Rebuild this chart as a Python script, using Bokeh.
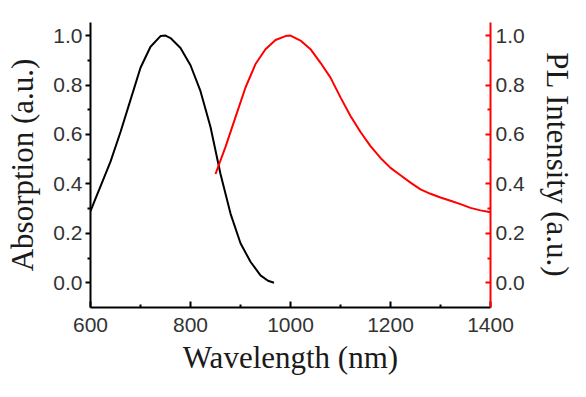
from bokeh.plotting import figure
from bokeh.models import Range1d, LinearAxis, FixedTicker, PrintfTickFormatter
from bokeh.embed import file_html
from bokeh.resources import INLINE

# Absorption spectrum (black)
abs_wavelength = [600, 610, 620, 640, 660, 680, 700, 720, 740, 750, 760, 780, 800,
                  820, 840, 860, 880, 900, 920, 940, 955, 967]
absorption = [0.29, 0.34, 0.39, 0.49, 0.61, 0.74, 0.87, 0.955, 0.998, 1.0, 0.99, 0.95, 0.88,
              0.775, 0.63, 0.44, 0.28, 0.16, 0.085, 0.03, 0.008, 0.0]

# PL spectrum (red)
pl_wavelength = [850, 870, 890, 910, 930, 950, 970, 990, 1000, 1020, 1040, 1060,
                 1080, 1100, 1120, 1140, 1160, 1180, 1200, 1220, 1240, 1260, 1280,
                 1300, 1320, 1340, 1360, 1380, 1400]
pl_intensity = [0.44, 0.55, 0.67, 0.79, 0.885, 0.945, 0.982, 0.998, 1.0, 0.98, 0.945, 0.89,
                0.83, 0.75, 0.675, 0.61, 0.553, 0.505, 0.465, 0.435, 0.405, 0.378, 0.36,
                0.345, 0.332, 0.318, 0.303, 0.293, 0.285]

x_ticks = [600, 800, 1000, 1200, 1400]
x_minor = [700, 900, 1100, 1300]
y_ticks = [0.0, 0.2, 0.4, 0.6, 0.8, 1.0]
y_minor = [0.1, 0.3, 0.5, 0.7, 0.9]

TICK_FONT = "Liberation Sans"
TITLE_FONT = "Liberation Serif"
TICK_SIZE = "21px"
TITLE_SIZE = "31px"

p = figure(width=584, height=385, output_backend="svg", toolbar_location=None,
           x_range=Range1d(600, 1400), y_range=Range1d(-0.1, 1.053),
           min_border_left=90, min_border_right=94, min_border_top=22,
           min_border_bottom=78, x_axis_label="Wavelength (nm)",
           y_axis_label="Absorption (a.u.)")
p.outline_line_color = None
p.grid.visible = False
p.background_fill_color = "white"
p.border_fill_color = "white"

p.extra_y_ranges = {"pl": Range1d(-0.1, 1.053)}

p.line(abs_wavelength, absorption, line_color="black", line_width=2)
p.line(pl_wavelength, pl_intensity, line_color="#ff0000", line_width=2, y_range_name="pl")

# bottom axis
xa = p.xaxis[0]
xa.ticker = FixedTicker(ticks=x_ticks, minor_ticks=x_minor)
xa.axis_line_width = 2
xa.major_tick_in = 6
xa.major_tick_out = 0
xa.minor_tick_in = 3
xa.minor_tick_out = 0
xa.major_tick_line_width = 2
xa.minor_tick_line_width = 2
xa.major_label_standoff = 10
xa.major_label_text_font = TICK_FONT
xa.major_label_text_font_size = TICK_SIZE
xa.major_label_text_color = "#333333"
xa.axis_label_text_font = TITLE_FONT
xa.axis_label_text_font_size = TITLE_SIZE
xa.axis_label_text_font_style = "normal"
xa.axis_label_text_color = "#1a1a1a"
xa.axis_label_standoff = 5

# left axis
ya = p.yaxis[0]
ya.ticker = FixedTicker(ticks=y_ticks, minor_ticks=y_minor)
ya.formatter = PrintfTickFormatter(format="%.1f")
ya.axis_line_width = 2
ya.major_tick_in = 0
ya.major_tick_out = 5
ya.minor_tick_in = 0
ya.minor_tick_out = 3
ya.major_tick_line_width = 2
ya.minor_tick_line_width = 2
ya.major_label_standoff = 3
ya.major_label_text_font = TICK_FONT
ya.major_label_text_font_size = TICK_SIZE
ya.major_label_text_color = "#333333"
ya.axis_label_text_font = TITLE_FONT
ya.axis_label_text_font_size = TITLE_SIZE
ya.axis_label_text_font_style = "normal"
ya.axis_label_text_color = "#1a1a1a"
ya.axis_label_standoff = 10

# right axis
ra = LinearAxis(y_range_name="pl", axis_label="PL Intensity (a.u.)",
                ticker=FixedTicker(ticks=y_ticks, minor_ticks=y_minor),
                formatter=PrintfTickFormatter(format="%.1f"))
ra.axis_line_color = "#ff0000"
ra.axis_line_width = 2
ra.major_tick_line_color = "#ff0000"
ra.minor_tick_line_color = "#ff0000"
ra.major_tick_in = 5
ra.major_tick_out = 0
ra.minor_tick_in = 3
ra.minor_tick_out = 0
ra.major_tick_line_width = 2
ra.minor_tick_line_width = 2
ra.major_label_standoff = 5
ra.major_label_text_font = TICK_FONT
ra.major_label_text_font_size = TICK_SIZE
ra.major_label_text_color = "#333333"
ra.axis_label_text_font = TITLE_FONT
ra.axis_label_text_font_size = TITLE_SIZE
ra.axis_label_text_font_style = "normal"
ra.axis_label_text_color = "#1a1a1a"
ra.axis_label_standoff = 12
p.add_layout(ra, "right")

open("out.html", "w").write(file_html(p, INLINE))
